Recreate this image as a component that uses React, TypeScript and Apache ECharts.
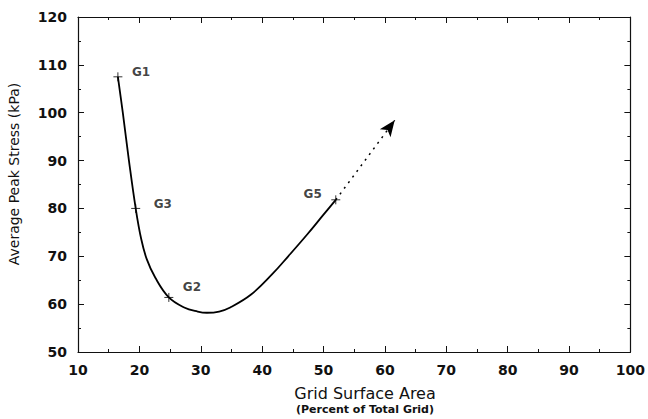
import React, { useEffect, useRef } from "react";
import * as echarts from "echarts";

// Curve (x = grid surface area %, y = average peak stress kPa)
const curveX = [16.5, 17.3, 18.3, 19.4, 20.3, 21.2, 22.6, 24.8, 27.3, 29.5, 31, 33, 34.8, 38.2, 41.6, 44.25, 47.3, 50, 52];
const curveY = [107.5, 100, 90, 80, 73.6, 69.4, 65.5, 61.4, 59.3, 58.45, 58.2, 58.45, 59.3, 62, 66.2, 70, 74.5, 78.7, 81.8];

// Labelled design points
const pointNames = ["G1", "G3", "G2", "G5"];
const pointX = [16.5, 19.4, 24.8, 52];
const pointY = [107.5, 80, 61.4, 81.8];

// Extrapolation arrow (dotted)
const arrowFrom = [52, 81.8];
const arrowTo = [61.6, 98.4];

const xTicks = { min: 10, max: 100, interval: 10 };
const yTicks = { min: 50, max: 120, interval: 10 };

const labelOffsets: Record<string, { position: string; offset: number[] }> = {
  G1: { position: "right", offset: [2, -5] },
  G3: { position: "right", offset: [6, -4] },
  G2: { position: "right", offset: [2, -10] },
  G5: { position: "left", offset: [-2, -6] },
};

const FONT = "'DejaVu Sans', sans-serif";

export default function App() {
  const ref = useRef<HTMLDivElement>(null);
  useEffect(() => {
    if (!ref.current) return;
    const chart = echarts.init(ref.current, undefined, { renderer: "svg" });
    const axisCommon = {
      type: "value" as const,
      axisLine: { show: true, onZero: false, lineStyle: { color: "#111", width: 1.2 } },
      axisTick: { show: true, inside: true, length: 6, lineStyle: { color: "#111" } },
      minorTick: { show: true, splitNumber: 2, length: 3, lineStyle: { color: "#111" } },
      splitLine: { show: false },
    };
    const labelStyle = { color: "#111", fontFamily: FONT, fontSize: 14, fontWeight: "bold" as const };
    chart.setOption({
      animation: false,
      backgroundColor: "#fff",
      grid: { left: 78, right: 15, top: 17, bottom: 67 },
      xAxis: [
        { ...axisCommon, ...xTicks, position: "bottom", axisLabel: { ...labelStyle, margin: 11 } },
        { ...axisCommon, ...xTicks, position: "top", axisLabel: { show: false } },
      ],
      yAxis: [
        { ...axisCommon, ...yTicks, position: "left", axisLabel: { ...labelStyle, margin: 11 } },
        { ...axisCommon, ...yTicks, position: "right", axisLabel: { show: false } },
      ],
      graphic: [
        {
          type: "text",
          x: 365,
          y: 393,
          style: {
            text: "Grid Surface Area",
            fontFamily: FONT,
            fontSize: 16,
            fill: "#111",
            align: "center",
            verticalAlign: "middle",
          },
        },
        {
          type: "text",
          x: 365,
          y: 409,
          style: {
            text: "(Percent of Total Grid)",
            fontFamily: FONT,
            fontSize: 11,
            fontWeight: "bold",
            fill: "#111",
            align: "center",
            verticalAlign: "middle",
          },
        },
        {
          type: "text",
          x: 14,
          y: 174,
          rotation: Math.PI / 2,
          style: {
            text: "Average Peak Stress (kPa)",
            fontFamily: FONT,
            fontSize: 14,
            fill: "#111",
            align: "center",
            verticalAlign: "middle",
          },
        },
      ],
      series: [
        {
          type: "line",
          data: curveX.map((x, i) => [x, curveY[i]]),
          smooth: 0.4,
          showSymbol: false,
          lineStyle: { color: "#000", width: 1.8 },
          markLine: {
            silent: true,
            symbol: ["none", "arrow"],
            symbolSize: [10, 16],
            label: { show: false },
            lineStyle: { type: [2, 5], color: "#000", width: 1.5 },
            data: [[{ coord: arrowFrom }, { coord: arrowTo }]],
          },
        },
        {
          type: "scatter",
          symbol: "path://M0,5L10,5M5,0L5,10",
          symbolSize: 9,
          itemStyle: { color: "none", borderColor: "#000", borderWidth: 1 },
          data: pointNames.map((n, i) => ({
            name: n,
            value: [pointX[i], pointY[i]],
            label: {
              show: true,
              formatter: n,
              position: labelOffsets[n].position,
              offset: labelOffsets[n].offset,
              color: "#111",
              fontFamily: FONT,
              fontSize: 12,
              fontWeight: "bold",
            },
          })),
        },
      ],
    });
    return () => chart.dispose();
  }, []);
  return <div ref={ref} style={{ width: 648, height: 419, position: "absolute", left: 0, top: 0 }} />;
}
